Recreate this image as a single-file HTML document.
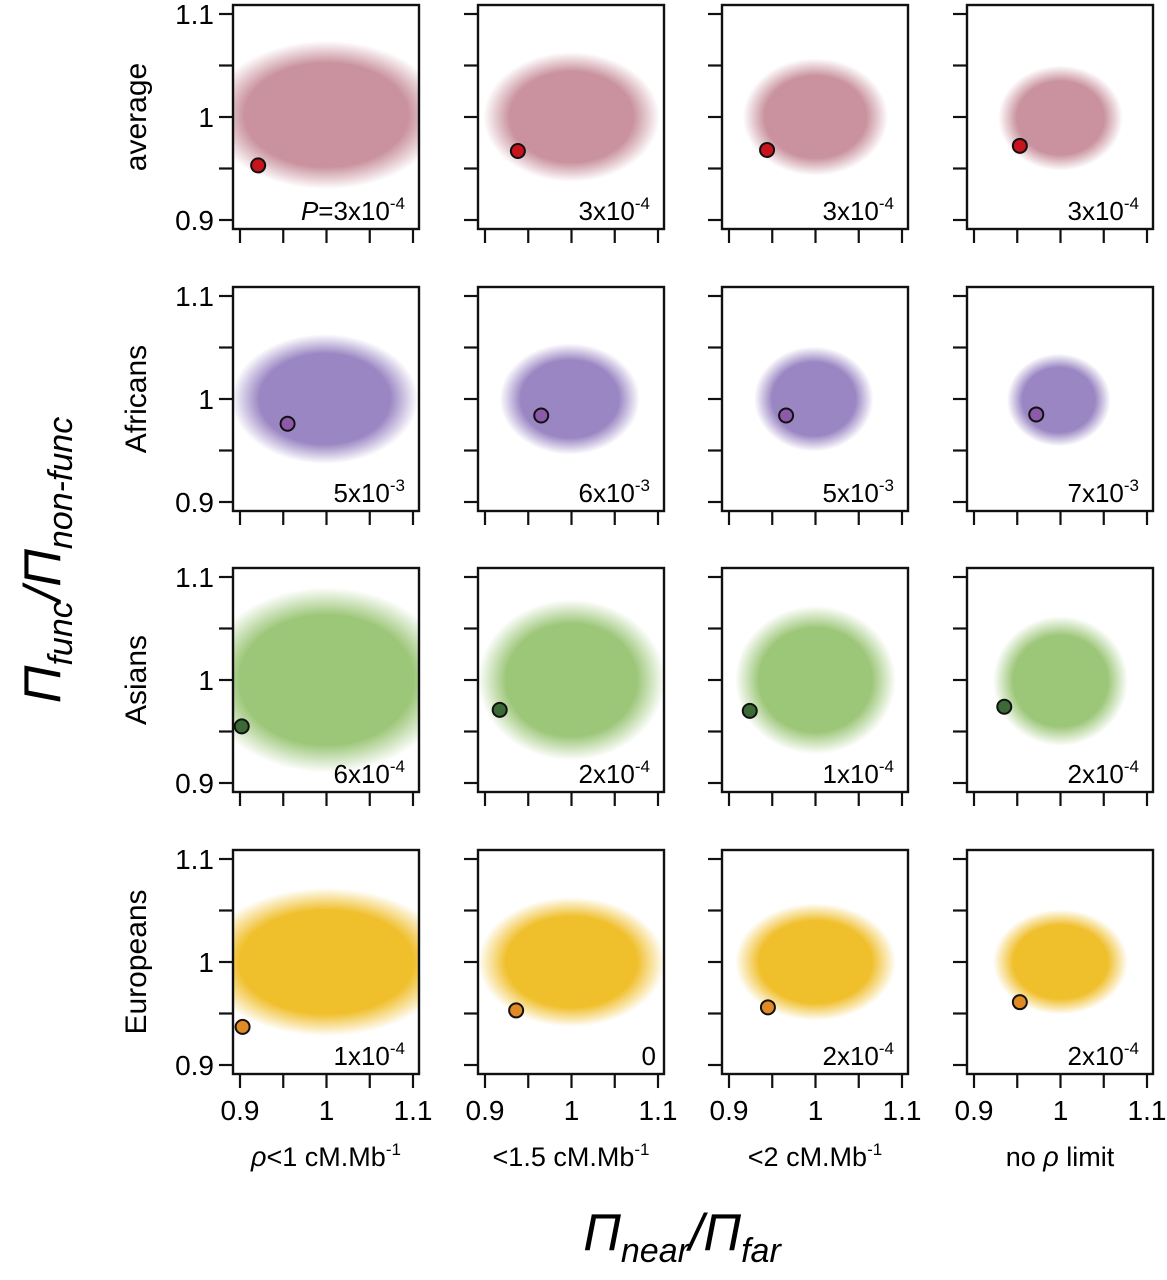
<!DOCTYPE html>
<html><head><meta charset="utf-8"><style>
html,body{margin:0;padding:0;background:#fff;}
svg{display:block;font-family:"Liberation Sans",sans-serif;}
</style></head><body>
<svg id="chart" width="1167" height="1280" viewBox="0 0 1167 1280">
<defs id="defs"></defs>
<g id="panels"></g>
<text transform="translate(60,560) rotate(-90)" text-anchor="middle" font-size="52" font-style="italic">Π<tspan font-size="34" dy="12">func</tspan><tspan font-size="52" dy="-12">/Π</tspan><tspan font-size="34" dy="12">non-func</tspan></text>
<text x="682" y="1250" text-anchor="middle" font-size="52" font-style="italic">Π<tspan font-size="34" dy="12">near</tspan><tspan font-size="52" dy="-12">/Π</tspan><tspan font-size="34" dy="12">far</tspan></text>
</svg>
<script>
const rowLabels=["average","Africans","Asians","Europeans"];
const colLabels=[["",'ρ<1 cM.Mb','-1'],["",'<1.5 cM.Mb','-1'],["",'<2 cM.Mb','-1'],["",'no ρ limit','']];
const cloudColors=["#c9929e","#9a86c3","#9cc678","#f0bf2c"];
const pointColors=["#c8141c","#8c5aa8","#3c6a36","#e08a26"];
const cloudCx=[[1.0,1.0,1.0,1.0],[0.998,0.998,0.998,0.998],[1.0,1.0,1.0,1.0],[1.0,1.0,1.0,1.0]];
const cloudCy=[[1.002,1.0,1.0,0.999],[1.0,1.0,1.0,0.999],[1.0,1.0,1.0,0.999],[1.0,1.0,1.0,1.0]];
const cloudSx=[[0.045,0.034,0.028,0.024],[0.036,0.027,0.023,0.02],[0.048,0.036,0.031,0.026],[0.048,0.036,0.031,0.026]];
const cloudSy=[[0.024,0.021,0.019,0.017],[0.021,0.018,0.017,0.015],[0.03,0.026,0.024,0.021],[0.024,0.021,0.019,0.017]];
const obsX=[[0.921,0.938,0.944,0.953],[0.955,0.965,0.966,0.972],[0.902,0.917,0.924,0.935],[0.903,0.936,0.945,0.953]];
const obsY=[[0.953,0.967,0.968,0.972],[0.976,0.984,0.984,0.985],[0.955,0.971,0.97,0.974],[0.937,0.953,0.956,0.961]];
const pMant=[["P=3x10","3x10","3x10","3x10"],["5x10","6x10","5x10","7x10"],["6x10","2x10","1x10","2x10"],["1x10","0","2x10","2x10"]];
const pExp=[["-4","-4","-4","-4"],["-3","-3","-3","-3"],["-4","-4","-4","-4"],["-4","","-4","-4"]];
const yTicks=[0.9,0.95,1,1.05,1.1];
const yTickLabels=["0.9","","1","","1.1"];
const xTicks=[0.9,0.95,1,1.05,1.1];
const xTickLabels=["0.9","","1","","1.1"];

const NS="http://www.w3.org/2000/svg";
const colLeft=[233,478,722,967], rowTop=[5,287,568,850], W=186, H=224;
function sx(c,v){return colLeft[c]+7+(v-0.9)/0.2*173;}
function sy(r,v){return rowTop[r]+9+(1.1-v)/0.2*206;}
function mk(tag,attrs,parent){const e=document.createElementNS(NS,tag);for(const k in attrs)e.setAttribute(k,attrs[k]);parent.appendChild(e);return e;}
const defs=document.getElementById('defs'), root=document.getElementById('panels');
for(let r=0;r<4;r++){
  const g0=mk('radialGradient',{id:'grad'+r},defs);
  mk('stop',{offset:'0','stop-color':cloudColors[r],'stop-opacity':'1'},g0);
  mk('stop',{offset:'0.7','stop-color':cloudColors[r],'stop-opacity':'1'},g0);
  mk('stop',{offset:'0.85','stop-color':cloudColors[r],'stop-opacity':'0.5'},g0);
  mk('stop',{offset:'1','stop-color':cloudColors[r],'stop-opacity':'0'},g0);
  const rl=mk('text',{transform:`translate(146,${rowTop[r]+112}) rotate(-90)`,'text-anchor':'middle','font-size':'30'},root);
  
  
  rl.textContent=rowLabels[r];
  for(let c=0;c<4;c++){
    const L=colLeft[c],T=rowTop[r];
    const g=mk('g',{},root);
    
    
    const cp=mk('clipPath',{id:`cp${r}${c}`},defs);
    mk('rect',{x:L,y:T,width:W,height:H},cp);
    const cl=mk('ellipse',{cx:sx(c,cloudCx[r][c]),cy:sy(r,cloudCy[r][c]),rx:cloudSx[r][c]*3.0/0.2*173,ry:cloudSy[r][c]*3.0/0.2*206,fill:`url(#grad${r})`,'clip-path':`url(#cp${r}${c})`},g);
    
    
    const pt=mk('circle',{cx:sx(c,obsX[r][c]),cy:sy(r,obsY[r][c]),r:7,fill:pointColors[r],stroke:'#111','stroke-width':2},g);
    
    
    const fr=mk('rect',{x:L,y:T,width:W,height:H,fill:'none',stroke:'#111','stroke-width':2.4},g);
    
    
    yTicks.forEach((v,i)=>{
      const y=sy(r,v);
      const t=mk('line',{x1:L-14,x2:L,y1:y,y2:y,stroke:'#111','stroke-width':2.2},g);
      
      
      if(c===0&&yTickLabels[i]){
        const tl=mk('text',{x:L-19,y:y+10,'text-anchor':'end','font-size':'28'},g);
        
        
        tl.textContent=yTickLabels[i];
      }
    });
    xTicks.forEach((v,i)=>{
      const x=sx(c,v);
      const t=mk('line',{x1:x,x2:x,y1:T+H,y2:T+H+14,stroke:'#111','stroke-width':2.2},g);
      
      
      if(r===3&&xTickLabels[i]){
        const tl=mk('text',{x:x,y:T+H+46,'text-anchor':'middle','font-size':'28'},g);
        
        
        tl.textContent=xTickLabels[i];
      }
    });
    const pl=mk('text',{x:L+W-(pExp[r][c]?14:8),y:T+H-9,'text-anchor':'end','font-size':'26'},g);
    
    
    const m=pMant[r][c];
    if(m.startsWith('P=')){const it=mk('tspan',{'font-style':'italic'},pl);it.textContent='P';const rest=mk('tspan',{},pl);rest.textContent=m.slice(1);}
    else{const rest=mk('tspan',{},pl);rest.textContent=m;}
    if(pExp[r][c]){const e=mk('tspan',{'font-size':'17',dy:'-11'},pl);e.textContent=pExp[r][c];}
  }
}
for(let c=0;c<4;c++){
  const t=mk('text',{x:colLeft[c]+W/2,y:1166,'text-anchor':'middle','font-size':'27'},root);
  
  
  const s=colLabels[c][1];
  if(s.startsWith('ρ')){const a=mk('tspan',{'font-style':'italic'},t);a.textContent='ρ';const b=mk('tspan',{},t);b.textContent=s.slice(1);}
  else if(s.includes('ρ')){const p=s.split('ρ');const a=mk('tspan',{},t);a.textContent=p[0];const b=mk('tspan',{'font-style':'italic'},t);b.textContent='ρ';const d=mk('tspan',{},t);d.textContent=p[1];}
  else{const a=mk('tspan',{},t);a.textContent=s;}
  if(colLabels[c][2]){const e=mk('tspan',{'font-size':'17',dy:'-11'},t);e.textContent=colLabels[c][2];}
}
</script>
</body></html>
